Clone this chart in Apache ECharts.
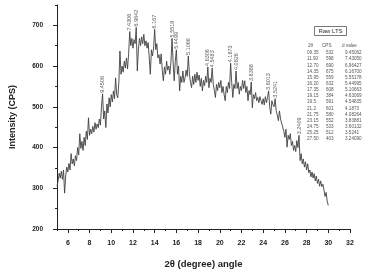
<!DOCTYPE html>
<html><head><meta charset="utf-8">
<script src="https://cdn.jsdelivr.net/npm/echarts@6/dist/echarts.min.js"></script>
<style>html,body{margin:0;padding:0;background:#fff}#c{width:368px;height:276px}</style>
</head><body><div id="c"></div>
<script>
// XRD pattern: 2-theta (deg) and intensity (CPS)
var twoTheta = [5.0,5.1,5.2,5.3,5.4,5.5,5.6,5.7,5.8,5.9,6.0,6.1,6.2,6.3,6.4,6.5,6.6,6.7,6.8,6.9,7.0,7.1,7.2,7.3,7.4,7.5,7.6,7.7,7.8,7.9,8.0,8.1,8.2,8.3,8.4,8.5,8.6,8.7,8.8,8.9,9.0,9.1,9.2,9.3,9.4,9.5,9.6,9.7,9.8,9.9,10.0,10.1,10.2,10.3,10.4,10.5,10.6,10.7,10.8,10.9,11.0,11.1,11.2,11.3,11.4,11.5,11.6,11.7,11.8,11.9,12.0,12.1,12.2,12.3,12.4,12.5,12.6,12.7,12.8,12.9,13.0,13.1,13.2,13.3,13.4,13.5,13.6,13.7,13.8,13.9,14.0,14.1,14.2,14.3,14.4,14.5,14.6,14.7,14.8,14.9,15.0,15.1,15.2,15.3,15.4,15.5,15.6,15.7,15.8,15.9,16.0,16.1,16.2,16.3,16.4,16.5,16.6,16.7,16.8,16.9,17.0,17.1,17.2,17.3,17.4,17.5,17.6,17.7,17.8,17.9,18.0,18.1,18.2,18.3,18.4,18.5,18.6,18.7,18.8,18.9,19.0,19.1,19.2,19.3,19.4,19.5,19.6,19.7,19.8,19.9,20.0,20.1,20.2,20.3,20.4,20.5,20.6,20.7,20.8,20.9,21.0,21.1,21.2,21.3,21.4,21.5,21.6,21.7,21.8,21.9,22.0,22.1,22.2,22.3,22.4,22.5,22.6,22.7,22.8,22.9,23.0,23.1,23.2,23.3,23.4,23.5,23.6,23.7,23.8,23.9,24.0,24.1,24.2,24.3,24.4,24.5,24.6,24.7,24.8,24.9,25.0,25.1,25.2,25.3,25.4,25.5,25.6,25.7,25.8,25.9,26.0,26.1,26.2,26.3,26.4,26.5,26.6,26.7,26.8,26.9,27.0,27.1,27.2,27.3,27.4,27.5,27.6,27.7,27.8,27.9,28.0,28.1,28.2,28.3,28.4,28.5,28.6,28.7,28.8,28.9,29.0,29.1,29.2,29.3,29.4,29.5,29.6,29.7,29.8,29.9,30.0];
var cps = [305,318,337,325,342,322,345,288,330,352,340,361,345,385,360,372,355,380,368,400,382,434,398,415,393,425,405,440,420,473,430,445,434,452,438,461,445,458,449,470,455,500,532,470,490,449,507,485,522,500,530,512,539,520,571,530,522,560,637,580,600,585,612,595,620,593,630,685,650,668,644,665,655,695,588,640,668,650,672,655,678,650,662,644,658,620,580,640,625,644,690,640,655,620,628,605,630,590,564,598,580,612,590,600,580,610,668,610,564,612,640,580,600,539,575,560,588,560,571,590,575,625,580,560,547,575,555,580,560,585,565,578,550,570,539,565,552,575,560,598,547,570,560,595,555,540,523,555,540,560,547,565,535,550,530,515,550,535,560,545,607,560,523,555,545,588,545,560,531,550,540,565,545,564,535,550,515,540,530,561,498,530,520,535,515,523,510,525,515,506,520,505,525,510,523,539,500,482,515,505,500,520,490,480,466,490,470,474,450,440,425,445,401,430,420,434,405,415,393,405,390,417,400,430,368,385,360,372,352,365,345,360,338,345,328,340,325,336,318,330,312,322,305,318,304,310,296,280,290,268,258];

// Peak annotations (d values) on the curve
var peakTheta = [9.2,11.7,12.3,14.0,15.6,16.0,17.1,18.9,19.3,21.0,21.5,22.9,24.5,25.1,27.3];
var peakCps   = [532,685,695,690,668,640,625,598,595,607,588,561,539,520,430];
var peakD     = ['9.4506','7.4306','6.9642','6.167','5.5518','5.4499','5.1066','4.6306','4.5483','4.1873','4.0826','3.8388','3.6013','3.5241','3.2409'];

// Peak table
var tableHeader = ['2θ','CPS','d value'];
var tableTheta = ['09.35','11.90','12.70','14.35','15.95','16.20','17.35','19.15','19.5','21.2','21.75','23.15','24.75','25.25','27.50'];
var tableCps   = ['532','598','690','675','559','632','608','384','591','601','580','552','533','512','403'];
var tableD     = ['9.45062','7.43050','6.96427','6.16700','5.55178','5.44995','5.10663','4.63069','4.54835','4.1873','4.08264','3.83881','3.60132','3.5241','3.24090'];

var xMajor = [6,8,10,12,14,16,18,20,22,24,26,28,30,32];
var xMinor = [5,7,9,11,13,15,17,19,21,23,25,27,29,31];
var yMajor = [200,300,400,500,600,700];
var yMinor = [250,350,450,550,650,750];

var lineData = twoTheta.map(function(t,i){return [t,cps[i]];});
var peakData = peakTheta.map(function(t,i){return [t,peakCps[i]];});

var FONT = 'Liberation Sans';
var graphics = [
  {type:'rect', shape:{x:314.5,y:26.5,width:32,height:9}, style:{fill:'#fff',stroke:'#555',lineWidth:0.8}},
  {type:'text', x:330.5, y:31, style:{text:'Raw LTS', font:'6px "'+FONT+'"', fill:'#333', align:'center', verticalAlign:'middle'}}
];
var colX = [308, 322, 342];
tableHeader.forEach(function(h,j){
  graphics.push({type:'text', x:colX[j], y:46, style:{text:h, font:'4.6px "'+FONT+'"', fill:'#555', verticalAlign:'middle'}});
});
var rowX = [307, 326, 345];
for (var i=0;i<tableTheta.length;i++){
  var yy = 53 + i*6.14;
  [tableTheta[i], tableCps[i], tableD[i]].forEach(function(v,j){
    graphics.push({type:'text', x:rowX[j], y:yy, style:{text:v, font:'4.6px "'+FONT+'"', fill:'#555', verticalAlign:'middle'}});
  });
}

var chart = echarts.init(document.getElementById('c'), null, {renderer:'canvas'});
chart.setOption({
  animation:false,
  backgroundColor:'#fff',
  grid:{left:48, right:18, top:5, bottom:47},
  xAxis:[{
    type:'value', min:5, max:32, position:'bottom',
    name:'2θ (degree) angle', nameLocation:'middle', nameGap:30,
    nameTextStyle:{fontFamily:FONT, fontWeight:'bold', fontSize:9.5, color:'#222'},
    axisLine:{show:true, lineStyle:{color:'#222', width:1}},
    axisTick:{show:true, customValues:xMajor, length:4, inside:false, lineStyle:{color:'#222'}},
    axisLabel:{customValues:xMajor, margin:11, fontFamily:FONT, fontWeight:'bold', fontSize:7, color:'#222'},
    splitLine:{show:false}
  },{
    type:'value', min:5, max:32, position:'bottom', gridIndex:0,
    axisLine:{show:false},
    axisTick:{show:true, customValues:xMinor, length:2, lineStyle:{color:'#222'}},
    axisLabel:{show:false}, splitLine:{show:false}
  }],
  yAxis:[{
    type:'value', min:200, max:750, position:'left',
    name:'Intensity (CPS)', nameLocation:'middle', nameGap:40,
    nameTextStyle:{fontFamily:FONT, fontWeight:'bold', fontSize:9, color:'#222'},
    axisLine:{show:true, lineStyle:{color:'#222', width:1}},
    axisTick:{show:true, customValues:yMajor, length:4, lineStyle:{color:'#222'}},
    axisLabel:{customValues:yMajor, margin:14, fontFamily:FONT, fontWeight:'bold', fontSize:6.5, color:'#222'},
    splitLine:{show:false}
  },{
    type:'value', min:200, max:750, position:'left', gridIndex:0,
    axisLine:{show:false},
    axisTick:{show:true, customValues:yMinor, length:2, lineStyle:{color:'#222'}},
    axisLabel:{show:false}, splitLine:{show:false}
  }],
  series:[{
    type:'line', name:'Raw LTS', data:lineData, xAxisIndex:0, yAxisIndex:0,
    symbol:'none', smooth:false,
    lineStyle:{color:'#404040', width:0.9}
  },{
    type:'scatter', data:peakData, xAxisIndex:0, yAxisIndex:0,
    symbolSize:0, silent:true,
    label:{show:true, position:'top', distance:1, rotate:90, align:'left', verticalAlign:'middle',
      fontFamily:FONT, fontSize:5.5, color:'#333',
      formatter:function(p){return peakD[p.dataIndex];}}
  }],
  graphic:graphics
});
</script>
</body></html>
